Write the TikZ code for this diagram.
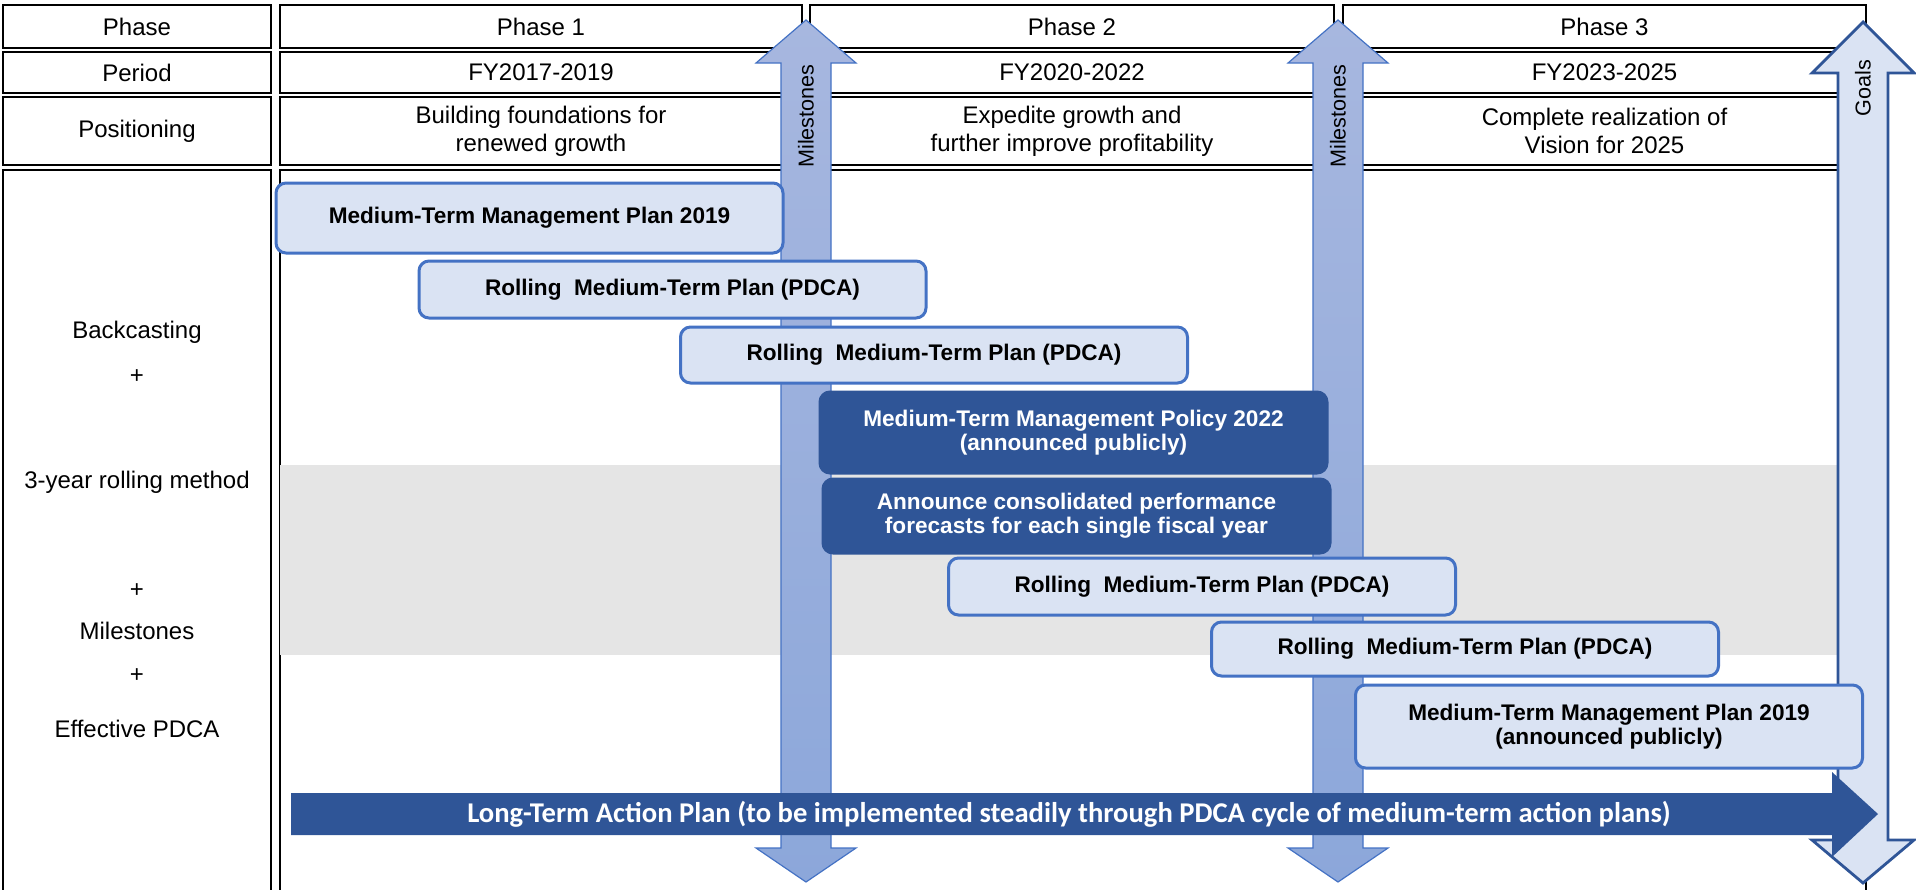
\documentclass[tikz,border=0pt]{standalone}
\usepackage{fontspec}
\setmainfont{Liberation Sans}
\newfontfamily\calibfont{Carlito}
\usepackage{tikz}
\usetikzlibrary{positioning}
\definecolor{planfill}{HTML}{DAE3F3}
\definecolor{planline}{HTML}{4472C4}
\definecolor{navy}{HTML}{2F5597}
\definecolor{mstop}{HTML}{A7B7DF}
\definecolor{msbot}{HTML}{8CA7DA}
\definecolor{band}{HTML}{E5E5E5}
\tikzset{
  cell/.style={draw=black, line width=1.2pt},
  celltext/.style={font=\fontsize{12}{14}\selectfont, align=center},
  plan/.style={draw=planline, fill=planfill, line width=1.5pt, rounded corners=5pt,
    minimum width=253.5pt, align=center, text=black, inner sep=0pt,
    font=\bfseries\fontsize{11.3}{12}\selectfont},
  policy/.style={plan, draw=navy, fill=navy, text=white},
  msarrow/.style={draw=planline, line width=0.6pt, top color=mstop, bottom color=msbot},
  goalarrow/.style={draw=navy, line width=1.4pt, fill=planfill},
  arrowtext/.style={rotate=90, font=\fontsize{10.8}{12}\selectfont}
}

\begin{document}
\begin{tikzpicture}[x=0.5pt, y=-0.5pt]
  \useasboundingbox (0,0) rectangle (1916,889);
  \clip (0,0) rectangle (1916,889);
  % Table head
  \node[cell, celltext, minimum width=134pt, minimum height=21.5pt] (phase0) at (137,26.5) {Phase};
  \node[cell, celltext, minimum width=134pt, minimum height=20.5pt] (period0) at (137,72.5) {Period};
  \node[cell, celltext, minimum width=134pt, minimum height=34pt] (pos0) at (137,131) {Positioning};
  \foreach \i/\cx/\cw/\fy/\pos in {1/541/261/{FY2017-2019}/{Building foundations for\\renewed growth},
      2/1072/262/{FY2020-2022}/{Expedite growth and\\further improve profitability},
      3/1604.5/261.5/{FY2023-2025}/{Complete realization of\\Vision for 2025}}
  {
    \node[cell, celltext, minimum width=\cw pt, minimum height=21.5pt] (phase\i) at (\cx,26.5) {Phase \i};
    \node[cell, celltext, minimum width=\cw pt, minimum height=20.5pt] (period\i) at (\cx,72.5) {\fy};
    \node[cell, celltext, minimum width=\cw pt, minimum height=34pt] (pos\i) at (\cx,131) {\pos};
  }
  % Table body
  \draw[cell] (3,170) rectangle (271,960);
  \draw[cell] (280,170) rectangle (1866,960);
  \fill[band] (280,465) rectangle (1838,655);
  \foreach \t/\y [count=\k] in {Backcasting/332, +/377, 3-year rolling method/482, +/591,
      Milestones/631, +/676, Effective PDCA/729}
    \node[celltext] (method\k) at (137,\y) {\t};
  % Milestones
  \foreach \cx [count=\m] in {806,1338}
  {
    \draw[msarrow] (\cx,20) -- (\cx+50,63) -- (\cx+25,63) -- (\cx+25,848) -- (\cx+50,848)
      -- (\cx,882) -- (\cx-50,848) -- (\cx-25,848) -- (\cx-25,63) -- (\cx-50,63) -- cycle;
    \node[arrowtext] (mslabel\m) at (\cx,116) {Milestones};
  }
  % Goals
  \draw[goalarrow] (1863,22) -- (1914,73) -- (1888,73) -- (1888,840) -- (1914,840)
    -- (1863,883) -- (1812,840) -- (1838,840) -- (1838,73) -- (1812,73) -- cycle;
  \node[arrowtext] (goals) at (1863,88) {Goals};
  % Plans
  \node[plan, minimum height=35pt] (mtmp) at (529.5,218) {Medium-Term Management Plan 2019};
  \node[plan, minimum height=28.5pt] (roll1) at (672.5,289.5) {Rolling\ \ Medium-Term Plan (PDCA)};
  \node[plan, minimum height=28pt] (roll2) at (934,355) {Rolling\ \ Medium-Term Plan (PDCA)};
  \node[policy, minimum height=40.5pt] (policy) at (1073.5,432.5) {Medium-Term Management Policy 2022\\(announced publicly)};
  \node[policy, minimum height=37pt] (forecast) at (1076.5,516) {Announce consolidated performance\\forecasts for each single fiscal year};
  \node[plan, minimum height=28.5pt] (roll3) at (1202,586.5) {Rolling\ \ Medium-Term Plan (PDCA)};
  \node[plan, minimum height=27pt] (roll4) at (1465,649) {Rolling\ \ Medium-Term Plan (PDCA)};
  \node[plan, minimum height=41.5pt] (mtmppub) at (1609,726.5) {Medium-Term Management Plan 2019\\(announced publicly)};
  % Long-term plan
  \fill[navy] (291,793) -- (1832,793) -- (1832,772) -- (1878,814) -- (1832,857) -- (1832,835)
    -- (291,835) -- cycle;
  \node[text=white, font=\calibfont\bfseries\fontsize{14.3}{16}\selectfont] (longterm) at (1069,814)
    {Long-Term Action Plan (to be implemented steadily through PDCA cycle of medium-term action plans)};
\end{tikzpicture}
\end{document}
